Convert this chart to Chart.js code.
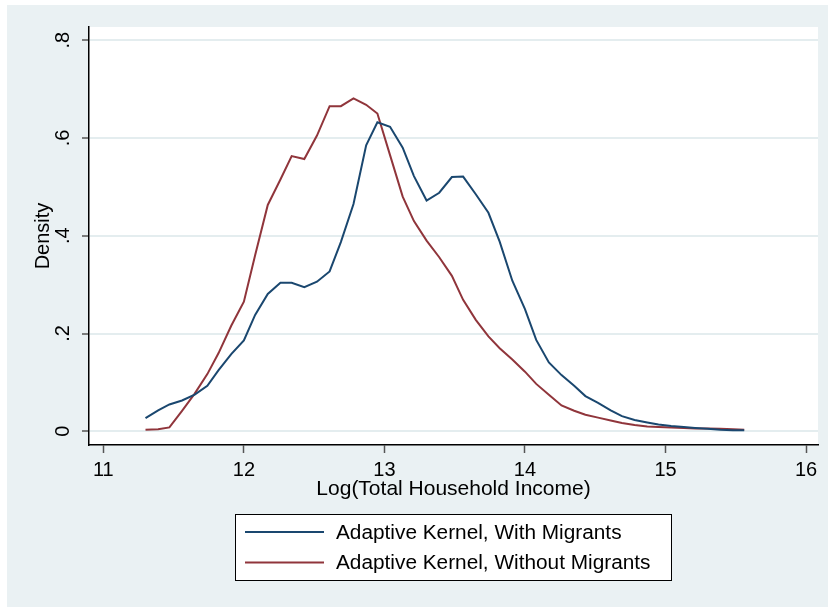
<!DOCTYPE html>
<html lang="en">
<head>
  <meta charset="UTF-8">
  <title>Adaptive Kernel Density</title>
  <script src="https://cdn.jsdelivr.net/npm/chart.js@4.4.2/dist/chart.umd.min.js"></script>
  <style>
    body { margin: 0; background: #fff; }
    #wrap { width: 828px; height: 607px; position: relative; }
  </style>
</head>
<body>
  <div id="wrap"><canvas id="densityChart"></canvas></div>

  <script>
    // log income grid (x) shared by both curves
    const incomeGrid = [11.30, 11.39, 11.47, 11.56, 11.65, 11.74, 11.82, 11.91, 12.00, 12.08,
                        12.17, 12.26, 12.34, 12.43, 12.52, 12.61, 12.69, 12.78, 12.87, 12.95,
                        13.04, 13.13, 13.21, 13.30, 13.39, 13.48, 13.56, 13.65, 13.74, 13.82,
                        13.91, 14.00, 14.08, 14.17, 14.26, 14.35, 14.43, 14.52, 14.61, 14.69,
                        14.78, 14.87, 14.95, 15.04, 15.13, 15.21, 15.30, 15.39, 15.48, 15.56];
    const withMigrants = [0.027, 0.043, 0.055, 0.063, 0.075, 0.093, 0.125, 0.158, 0.186, 0.238,
                          0.281, 0.304, 0.304, 0.295, 0.306, 0.327, 0.387, 0.465, 0.585, 0.632,
                          0.623, 0.580, 0.522, 0.472, 0.488, 0.520, 0.521, 0.485, 0.447, 0.388,
                          0.308, 0.250, 0.187, 0.141, 0.115, 0.093, 0.072, 0.058, 0.043, 0.031,
                          0.023, 0.018, 0.014, 0.011, 0.009, 0.007, 0.005, 0.003, 0.002, 0.002];
    const withoutMigrants = [0.003, 0.004, 0.008, 0.042, 0.077, 0.117, 0.160, 0.216, 0.265, 0.360,
                             0.463, 0.515, 0.563, 0.557, 0.605, 0.665, 0.665, 0.681, 0.668, 0.650,
                             0.565, 0.480, 0.430, 0.390, 0.356, 0.318, 0.269, 0.228, 0.194, 0.170,
                             0.147, 0.122, 0.097, 0.075, 0.053, 0.042, 0.034, 0.028, 0.022, 0.017,
                             0.013, 0.010, 0.009, 0.008, 0.007, 0.006, 0.006, 0.005, 0.004, 0.003];
    const seriesLabels = ['Adaptive Kernel, With Migrants', 'Adaptive Kernel, Without Migrants'];
    const xTickValues = [11, 12, 13, 14, 15, 16];
    const yTickValues = [0, 0.2, 0.4, 0.6, 0.8];
    const yTickLabels = ['0', '.2', '.4', '.6', '.8'];

    const FONT = "'Liberation Sans', Arial, sans-serif";
    const BG = '#EAF1F3';

    const toPoints = ys => incomeGrid.map((x, i) => ({ x: x, y: ys[i] }));

    // outer stata-like region + white plot area
    const backdrop = {
      id: 'backdrop',
      beforeDraw(chart) {
        const { ctx, chartArea: a } = chart;
        ctx.save();
        ctx.fillStyle = '#fff';
        ctx.fillRect(0, 0, chart.width, chart.height);
        ctx.fillStyle = BG;
        ctx.fillRect(7, 5, chart.width - 7, chart.height - 5);
        ctx.fillStyle = '#fff';
        ctx.fillRect(a.left, a.top, a.right - a.left, a.bottom - a.top);
        ctx.restore();
      }
    };

    // rotated y tick labels, placed through the y scale
    const yLabels = {
      id: 'yLabels',
      afterDraw(chart) {
        const { ctx } = chart;
        const y = chart.scales.y;
        ctx.save();
        ctx.fillStyle = '#000';
        ctx.font = '20px ' + FONT;
        ctx.textAlign = 'center';
        ctx.textBaseline = 'middle';
        yTickValues.forEach((v, i) => {
          ctx.save();
          ctx.translate(63, y.getPixelForValue(v));
          ctx.rotate(-Math.PI / 2);
          ctx.fillText(yTickLabels[i], 0, 0);
          ctx.restore();
        });
        ctx.restore();
      }
    };

    // boxed legend under the axis title
    const boxLegend = {
      id: 'boxLegend',
      afterDraw(chart) {
        const { ctx } = chart;
        const left = 235.5, top = 514.5, w = 436, h = 66;
        ctx.save();
        ctx.fillStyle = '#fff';
        ctx.fillRect(left, top, w, h);
        ctx.strokeStyle = '#000';
        ctx.lineWidth = 1;
        ctx.strokeRect(left, top, w, h);
        ctx.font = '20px ' + FONT;
        ctx.textBaseline = 'middle';
        chart.data.datasets.forEach((ds, i) => {
          const yy = 532 + i * 30.5;
          ctx.strokeStyle = ds.borderColor;
          ctx.lineWidth = 2;
          ctx.beginPath();
          ctx.moveTo(245, yy);
          ctx.lineTo(324, yy);
          ctx.stroke();
          ctx.save();
          ctx.translate(336, yy + 1);
          ctx.scale(1.04, 1);
          ctx.fillStyle = '#000';
          ctx.fillText(ds.label, 0, 0);
          ctx.restore();
        });
        ctx.restore();
      }
    };

    new Chart(document.getElementById('densityChart'), {
      type: 'line',
      data: {
        datasets: [{
          label: seriesLabels[0],
          data: toPoints(withMigrants),
          borderColor: '#1A476F',
          borderWidth: 2,
          pointRadius: 0,
          tension: 0,
          fill: false
        }, {
          label: seriesLabels[1],
          data: toPoints(withoutMigrants),
          borderColor: '#90353B',
          borderWidth: 2,
          pointRadius: 0,
          tension: 0,
          fill: false
        }]
      },
      options: {
        responsive: true,
        maintainAspectRatio: false,
        animation: false,
        layout: { padding: { left: 0, top: 27, right: 10, bottom: 105 } },
        plugins: {
          legend: { display: false },
          tooltip: { enabled: false }
        },
        scales: {
          x: {
            type: 'linear',
            min: 10.898,
            max: 16.085,
            afterBuildTicks: s => { s.ticks = xTickValues.map(v => ({ value: v })); },
            afterFit: s => { s.height = 57; },
            grid: {
              drawOnChartArea: false,
              drawTicks: true,
              tickLength: 8,
              tickColor: '#555',
              tickWidth: 1.5
            },
            border: { display: true, color: '#000', width: 1.5 },
            ticks: {
              padding: 5,
              color: '#000',
              font: { family: FONT, size: 20 },
              maxRotation: 0,
              callback: v => String(v)
            },
            title: {
              display: true,
              text: 'Log(Total Household Income)',
              color: '#000',
              font: { family: FONT, size: 21 },
              padding: { top: 0, bottom: 0 }
            }
          },
          y: {
            type: 'linear',
            min: -0.028,
            max: 0.827,
            afterBuildTicks: s => { s.ticks = yTickValues.map(v => ({ value: v })); },
            afterFit: s => { s.width = 89; },
            grid: {
              color: '#E4EDEF',
              lineWidth: 2,
              drawTicks: true,
              tickLength: 7,
              tickColor: '#555',
              tickWidth: 1.5
            },
            border: { display: true, color: '#000', width: 1.5 },
            ticks: { display: false },
            title: {
              display: true,
              text: 'Density',
              color: '#000',
              font: { family: FONT, size: 20 },
              padding: { top: 31, bottom: 0 }
            }
          }
        }
      },
      plugins: [backdrop, yLabels, boxLegend]
    });
  </script>
</body>
</html>
